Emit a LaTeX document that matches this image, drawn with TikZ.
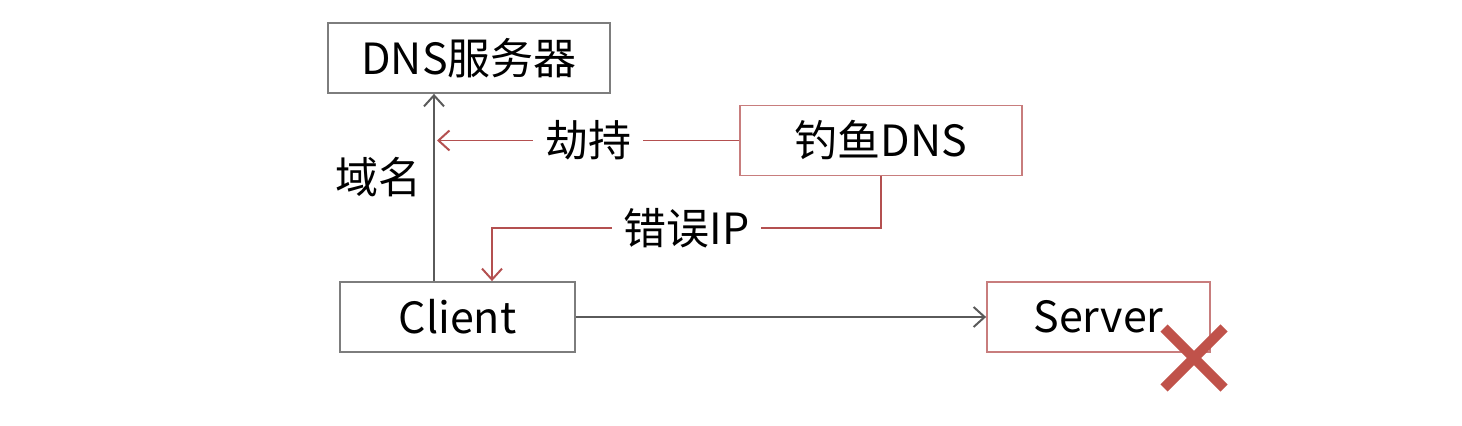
\documentclass[tikz,border=0pt]{standalone}
\usepackage{fontspec}
\setmainfont{Noto Sans CJK SC}
\usetikzlibrary{arrows.meta}

\definecolor{boxgray}{RGB}{125,125,125}
\definecolor{linegray}{RGB}{90,90,90}
\definecolor{boxred}{RGB}{200,125,125}
\definecolor{linered}{RGB}{180,80,80}
\definecolor{crossred}{RGB}{192,82,74}

\tikzset{
  box/.style={draw=boxgray,line width=0.9pt,minimum height=35pt,inner sep=0pt,font=\fontsize{21.5}{25}\selectfont},
  redbox/.style={box,draw=boxred},
  grayline/.style={draw=linegray,line width=0.9pt},
  redline/.style={draw=linered,line width=0.9pt},
  lbl/.style={fill=white,inner xsep=6pt,inner ysep=2pt,font=\fontsize{21.5}{25}\selectfont},
  >={Straight Barb[length=5.5pt,width=10pt,line width=1pt]}
}

\begin{document}
\begin{tikzpicture}[x=0.5pt,y=-0.5pt]
\useasboundingbox (0,0) rectangle (1462,426);
% draw boxes
\node[box,minimum width=141pt] (dns) at (469,58) {DNS服务器};
\node[redbox,minimum width=141pt] (fish) at (881,140.5) {钓鱼DNS};
\node[box,minimum width=117.5pt] (client) at (457.5,317) {Client};
\node[redbox,minimum width=111.5pt] (server) at (1098.5,317) {Server};
% helper points
\coordinate (up) at (434,0);
\coordinate (hit) at (437,0);
\coordinate (turn) at (492,228);
% draw query
\draw[grayline,->] (client.north -| up) -- (dns.south -| up);
\node[font=\fontsize{21.5}{25}\selectfont] (domain) at (378,177) {域名};
% draw hijack
\draw[redline,->] (fish.west) -- node[lbl] (hijack) {劫持} (fish.west -| hit);
% draw wrong ip
\draw[redline,->] (fish.south) |- node[lbl,pos=0.75] (wrongip) {错误IP} (turn) -- (turn |- client.north);
% draw connection
\draw[grayline,->] (client.east) -- (server.west);
% draw cross
\coordinate (cross) at (1194,358);
\draw[crossred,line width=5pt] ([shift={(-30,-30)}]cross) -- ([shift={(30,30)}]cross);
\draw[crossred,line width=5pt] ([shift={(-30,30)}]cross) -- ([shift={(30,-30)}]cross);
\end{tikzpicture}
\end{document}
